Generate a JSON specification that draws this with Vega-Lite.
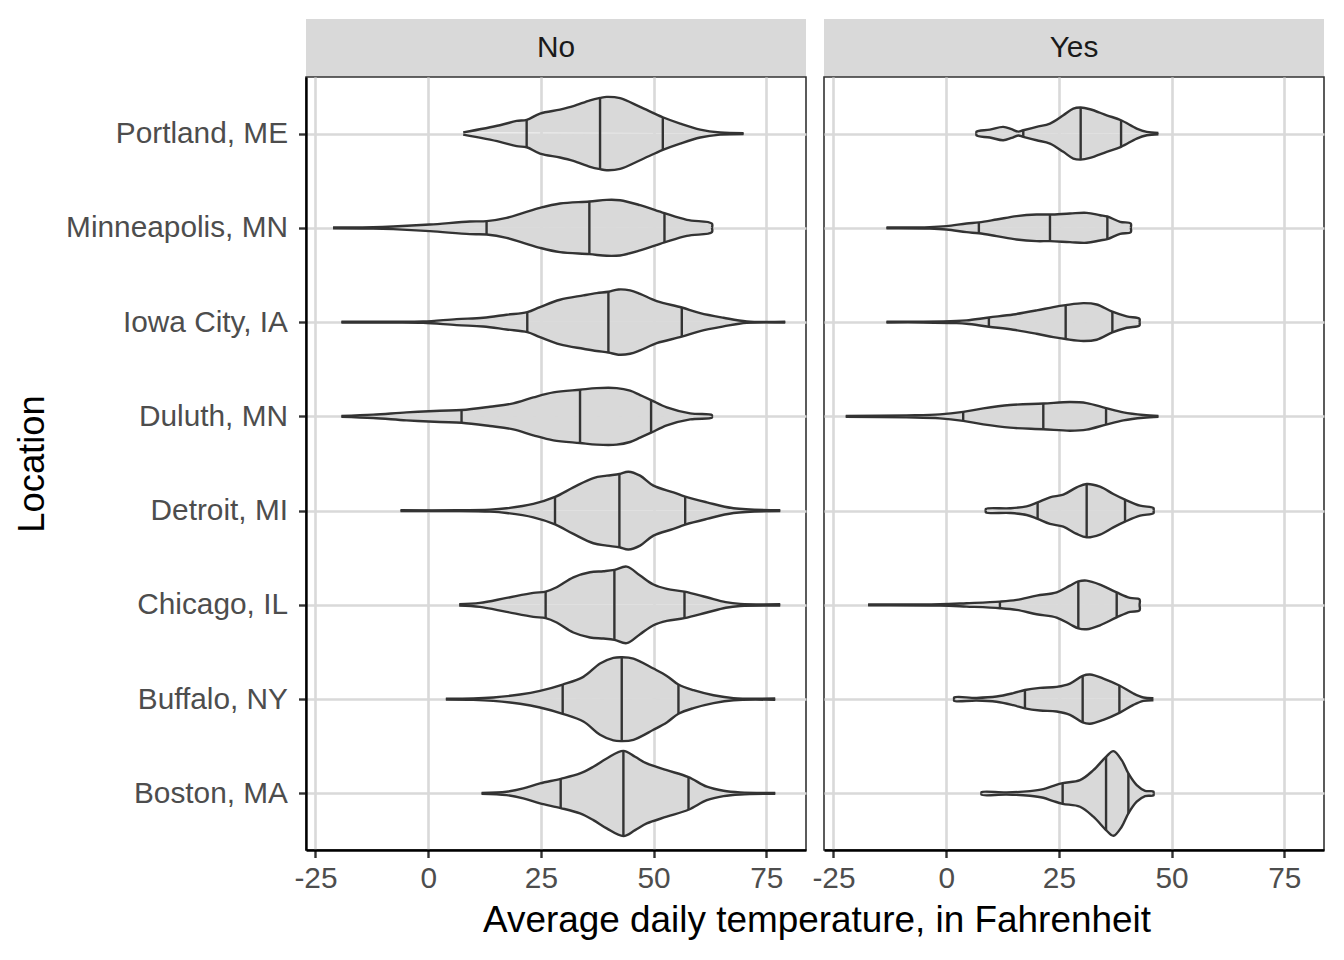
{
  "$schema": "https://vega.github.io/schema/vega-lite/v6.json",
  "background": "white",
  "padding": {"left": 13, "top": 19, "right": 10, "bottom": 10},
  "title": {"text": "Average daily temperature, in Fahrenheit", "orient": "bottom", "anchor": "middle", "fontSize": 36.9, "fontWeight": "normal", "font": "Liberation Sans", "color": "#000000", "offset": 9, "dx": 148},
  "datasets": {
    "v": [
      {"p":"No","l":"Portland, ME","t":7.77,"w":0.012},{"p":"No","l":"Portland, ME","t":15.91,"w":0.088},{"p":"No","l":"Portland, ME","t":19.62,"w":0.134},{"p":"No","l":"Portland, ME","t":21.84,"w":0.145},{"p":"No","l":"Portland, ME","t":24.8,"w":0.212},{"p":"No","l":"Portland, ME","t":29.24,"w":0.254},{"p":"No","l":"Portland, ME","t":32.2,"w":0.29},{"p":"No","l":"Portland, ME","t":35.9,"w":0.353},{"p":"No","l":"Portland, ME","t":38.12,"w":0.378},{"p":"No","l":"Portland, ME","t":39.6,"w":0.389},{"p":"No","l":"Portland, ME","t":42.56,"w":0.375},{"p":"No","l":"Portland, ME","t":47.0,"w":0.283},{"p":"No","l":"Portland, ME","t":52.04,"w":0.173},{"p":"No","l":"Portland, ME","t":55.89,"w":0.106},{"p":"No","l":"Portland, ME","t":60.33,"w":0.042},{"p":"No","l":"Portland, ME","t":64.77,"w":0.011},{"p":"No","l":"Portland, ME","t":69.95,"w":0.004},
      {"p":"No","l":"Minneapolis, MN","t":-21.1,"w":0.004},{"p":"No","l":"Minneapolis, MN","t":-12.21,"w":0.007},{"p":"No","l":"Minneapolis, MN","t":-7.77,"w":0.014},{"p":"No","l":"Minneapolis, MN","t":0.37,"w":0.035},{"p":"No","l":"Minneapolis, MN","t":9.25,"w":0.067},{"p":"No","l":"Minneapolis, MN","t":12.95,"w":0.071},{"p":"No","l":"Minneapolis, MN","t":17.39,"w":0.106},{"p":"No","l":"Minneapolis, MN","t":21.1,"w":0.159},{"p":"No","l":"Minneapolis, MN","t":24.8,"w":0.212},{"p":"No","l":"Minneapolis, MN","t":29.24,"w":0.258},{"p":"No","l":"Minneapolis, MN","t":35.75,"w":0.279},{"p":"No","l":"Minneapolis, MN","t":39.6,"w":0.297},{"p":"No","l":"Minneapolis, MN","t":42.56,"w":0.293},{"p":"No","l":"Minneapolis, MN","t":47.0,"w":0.24},{"p":"No","l":"Minneapolis, MN","t":52.41,"w":0.155},{"p":"No","l":"Minneapolis, MN","t":57.37,"w":0.085},{"p":"No","l":"Minneapolis, MN","t":62.92,"w":0.046},{"p":"No","l":"Minneapolis, MN","t":62.92,"w":0},
      {"p":"No","l":"Iowa City, IA","t":-19.25,"w":0.004},{"p":"No","l":"Iowa City, IA","t":-8.51,"w":0.004},{"p":"No","l":"Iowa City, IA","t":-1.11,"w":0.007},{"p":"No","l":"Iowa City, IA","t":6.29,"w":0.032},{"p":"No","l":"Iowa City, IA","t":12.21,"w":0.046},{"p":"No","l":"Iowa City, IA","t":17.39,"w":0.078},{"p":"No","l":"Iowa City, IA","t":21.98,"w":0.106},{"p":"No","l":"Iowa City, IA","t":24.8,"w":0.159},{"p":"No","l":"Iowa City, IA","t":29.24,"w":0.237},{"p":"No","l":"Iowa City, IA","t":34.42,"w":0.283},{"p":"No","l":"Iowa City, IA","t":37.38,"w":0.307},{"p":"No","l":"Iowa City, IA","t":39.97,"w":0.322},{"p":"No","l":"Iowa City, IA","t":42.19,"w":0.346},{"p":"No","l":"Iowa City, IA","t":44.78,"w":0.336},{"p":"No","l":"Iowa City, IA","t":47.0,"w":0.3},{"p":"No","l":"Iowa City, IA","t":50.7,"w":0.223},{"p":"No","l":"Iowa City, IA","t":56.25,"w":0.155},{"p":"No","l":"Iowa City, IA","t":60.33,"w":0.095},{"p":"No","l":"Iowa City, IA","t":65.51,"w":0.046},{"p":"No","l":"Iowa City, IA","t":70.69,"w":0.007},{"p":"No","l":"Iowa City, IA","t":79.2,"w":0.004},
      {"p":"No","l":"Duluth, MN","t":-19.25,"w":0.004},{"p":"No","l":"Duluth, MN","t":-12.21,"w":0.018},{"p":"No","l":"Duluth, MN","t":-4.81,"w":0.042},{"p":"No","l":"Duluth, MN","t":2.59,"w":0.06},{"p":"No","l":"Duluth, MN","t":7.4,"w":0.067},{"p":"No","l":"Duluth, MN","t":13.69,"w":0.102},{"p":"No","l":"Duluth, MN","t":18.88,"w":0.138},{"p":"No","l":"Duluth, MN","t":23.32,"w":0.201},{"p":"No","l":"Duluth, MN","t":27.76,"w":0.254},{"p":"No","l":"Duluth, MN","t":33.68,"w":0.283},{"p":"No","l":"Duluth, MN","t":37.38,"w":0.3},{"p":"No","l":"Duluth, MN","t":41.82,"w":0.3},{"p":"No","l":"Duluth, MN","t":44.78,"w":0.272},{"p":"No","l":"Duluth, MN","t":47.0,"w":0.226},{"p":"No","l":"Duluth, MN","t":49.44,"w":0.173},{"p":"No","l":"Duluth, MN","t":52.92,"w":0.095},{"p":"No","l":"Duluth, MN","t":58.11,"w":0.032},{"p":"No","l":"Duluth, MN","t":62.92,"w":0.014},{"p":"No","l":"Duluth, MN","t":62.92,"w":0},
      {"p":"No","l":"Detroit, MI","t":-6.14,"w":0.004},{"p":"No","l":"Detroit, MI","t":6.29,"w":0.004},{"p":"No","l":"Detroit, MI","t":13.69,"w":0.011},{"p":"No","l":"Detroit, MI","t":17.39,"w":0.025},{"p":"No","l":"Detroit, MI","t":23.32,"w":0.071},{"p":"No","l":"Detroit, MI","t":28.13,"w":0.145},{"p":"No","l":"Detroit, MI","t":32.2,"w":0.247},{"p":"No","l":"Detroit, MI","t":36.64,"w":0.346},{"p":"No","l":"Detroit, MI","t":39.6,"w":0.371},{"p":"No","l":"Detroit, MI","t":42.41,"w":0.389},{"p":"No","l":"Detroit, MI","t":44.41,"w":0.413},{"p":"No","l":"Detroit, MI","t":47.0,"w":0.371},{"p":"No","l":"Detroit, MI","t":49.96,"w":0.265},{"p":"No","l":"Detroit, MI","t":54.4,"w":0.194},{"p":"No","l":"Detroit, MI","t":57.0,"w":0.148},{"p":"No","l":"Detroit, MI","t":61.81,"w":0.088},{"p":"No","l":"Detroit, MI","t":67.73,"w":0.025},{"p":"No","l":"Detroit, MI","t":78.09,"w":0.004},
      {"p":"No","l":"Chicago, IL","t":6.88,"w":0.007},{"p":"No","l":"Chicago, IL","t":11.47,"w":0.021},{"p":"No","l":"Chicago, IL","t":17.39,"w":0.074},{"p":"No","l":"Chicago, IL","t":23.32,"w":0.127},{"p":"No","l":"Chicago, IL","t":26.05,"w":0.141},{"p":"No","l":"Chicago, IL","t":28.5,"w":0.187},{"p":"No","l":"Chicago, IL","t":32.2,"w":0.293},{"p":"No","l":"Chicago, IL","t":35.9,"w":0.346},{"p":"No","l":"Chicago, IL","t":38.86,"w":0.357},{"p":"No","l":"Chicago, IL","t":41.3,"w":0.371},{"p":"No","l":"Chicago, IL","t":44.04,"w":0.406},{"p":"No","l":"Chicago, IL","t":47.0,"w":0.311},{"p":"No","l":"Chicago, IL","t":49.96,"w":0.216},{"p":"No","l":"Chicago, IL","t":52.92,"w":0.17},{"p":"No","l":"Chicago, IL","t":56.85,"w":0.141},{"p":"No","l":"Chicago, IL","t":61.81,"w":0.081},{"p":"No","l":"Chicago, IL","t":66.0,"w":0.03},{"p":"No","l":"Chicago, IL","t":69.21,"w":0.011},{"p":"No","l":"Chicago, IL","t":78.09,"w":0.007},
      {"p":"No","l":"Buffalo, NY","t":3.92,"w":0.004},{"p":"No","l":"Buffalo, NY","t":9.99,"w":0.007},{"p":"No","l":"Buffalo, NY","t":14.43,"w":0.018},{"p":"No","l":"Buffalo, NY","t":20.36,"w":0.049},{"p":"No","l":"Buffalo, NY","t":24.8,"w":0.088},{"p":"No","l":"Buffalo, NY","t":29.83,"w":0.155},{"p":"No","l":"Buffalo, NY","t":34.42,"w":0.237},{"p":"No","l":"Buffalo, NY","t":38.12,"w":0.378},{"p":"No","l":"Buffalo, NY","t":41.08,"w":0.438},{"p":"No","l":"Buffalo, NY","t":42.93,"w":0.445},{"p":"No","l":"Buffalo, NY","t":45.52,"w":0.431},{"p":"No","l":"Buffalo, NY","t":49.96,"w":0.325},{"p":"No","l":"Buffalo, NY","t":52.92,"w":0.247},{"p":"No","l":"Buffalo, NY","t":55.51,"w":0.155},{"p":"No","l":"Buffalo, NY","t":58.85,"w":0.095},{"p":"No","l":"Buffalo, NY","t":63.29,"w":0.042},{"p":"No","l":"Buffalo, NY","t":67.73,"w":0.011},{"p":"No","l":"Buffalo, NY","t":76.98,"w":0.007},
      {"p":"No","l":"Boston, MA","t":11.84,"w":0.004},{"p":"No","l":"Boston, MA","t":17.39,"w":0.018},{"p":"No","l":"Boston, MA","t":21.1,"w":0.053},{"p":"No","l":"Boston, MA","t":24.8,"w":0.106},{"p":"No","l":"Boston, MA","t":29.39,"w":0.155},{"p":"No","l":"Boston, MA","t":33.68,"w":0.212},{"p":"No","l":"Boston, MA","t":36.64,"w":0.283},{"p":"No","l":"Boston, MA","t":39.6,"w":0.371},{"p":"No","l":"Boston, MA","t":43.3,"w":0.452},{"p":"No","l":"Boston, MA","t":45.89,"w":0.389},{"p":"No","l":"Boston, MA","t":48.48,"w":0.318},{"p":"No","l":"Boston, MA","t":52.92,"w":0.247},{"p":"No","l":"Boston, MA","t":57.74,"w":0.173},{"p":"No","l":"Boston, MA","t":61.81,"w":0.071},{"p":"No","l":"Boston, MA","t":65.51,"w":0.028},{"p":"No","l":"Boston, MA","t":69.21,"w":0.011},{"p":"No","l":"Boston, MA","t":76.98,"w":0.004},
      {"p":"Yes","l":"Portland, ME","t":6.74,"w":0},{"p":"Yes","l":"Portland, ME","t":6.74,"w":0.021},{"p":"Yes","l":"Portland, ME","t":9.7,"w":0.042},{"p":"Yes","l":"Portland, ME","t":12.66,"w":0.071},{"p":"Yes","l":"Portland, ME","t":14.51,"w":0.046},{"p":"Yes","l":"Portland, ME","t":15.99,"w":0.021},{"p":"Yes","l":"Portland, ME","t":17.1,"w":0.035},{"p":"Yes","l":"Portland, ME","t":20.06,"w":0.071},{"p":"Yes","l":"Portland, ME","t":23.02,"w":0.106},{"p":"Yes","l":"Portland, ME","t":25.98,"w":0.194},{"p":"Yes","l":"Portland, ME","t":28.2,"w":0.265},{"p":"Yes","l":"Portland, ME","t":29.83,"w":0.276},{"p":"Yes","l":"Portland, ME","t":31.9,"w":0.258},{"p":"Yes","l":"Portland, ME","t":35.6,"w":0.194},{"p":"Yes","l":"Portland, ME","t":38.79,"w":0.141},{"p":"Yes","l":"Portland, ME","t":42.26,"w":0.053},{"p":"Yes","l":"Portland, ME","t":44.49,"w":0.018},{"p":"Yes","l":"Portland, ME","t":47.08,"w":0.007},
      {"p":"Yes","l":"Minneapolis, MN","t":-13.25,"w":0.004},{"p":"Yes","l":"Minneapolis, MN","t":-3.63,"w":0.007},{"p":"Yes","l":"Minneapolis, MN","t":0.07,"w":0.018},{"p":"Yes","l":"Minneapolis, MN","t":4.52,"w":0.046},{"p":"Yes","l":"Minneapolis, MN","t":7.25,"w":0.058},{"p":"Yes","l":"Minneapolis, MN","t":11.18,"w":0.088},{"p":"Yes","l":"Minneapolis, MN","t":15.62,"w":0.124},{"p":"Yes","l":"Minneapolis, MN","t":20.06,"w":0.141},{"p":"Yes","l":"Minneapolis, MN","t":23.02,"w":0.141},{"p":"Yes","l":"Minneapolis, MN","t":27.46,"w":0.152},{"p":"Yes","l":"Minneapolis, MN","t":31.16,"w":0.159},{"p":"Yes","l":"Minneapolis, MN","t":34.12,"w":0.134},{"p":"Yes","l":"Minneapolis, MN","t":35.75,"w":0.12},{"p":"Yes","l":"Minneapolis, MN","t":38.57,"w":0.064},{"p":"Yes","l":"Minneapolis, MN","t":40.93,"w":0.046},{"p":"Yes","l":"Minneapolis, MN","t":40.93,"w":0},
      {"p":"Yes","l":"Iowa City, IA","t":-13.25,"w":0.004},{"p":"Yes","l":"Iowa City, IA","t":-5.11,"w":0.004},{"p":"Yes","l":"Iowa City, IA","t":2.29,"w":0.011},{"p":"Yes","l":"Iowa City, IA","t":4.52,"w":0.018},{"p":"Yes","l":"Iowa City, IA","t":9.47,"w":0.049},{"p":"Yes","l":"Iowa City, IA","t":14.88,"w":0.081},{"p":"Yes","l":"Iowa City, IA","t":20.06,"w":0.124},{"p":"Yes","l":"Iowa City, IA","t":23.76,"w":0.159},{"p":"Yes","l":"Iowa City, IA","t":26.5,"w":0.18},{"p":"Yes","l":"Iowa City, IA","t":30.42,"w":0.201},{"p":"Yes","l":"Iowa City, IA","t":33.38,"w":0.187},{"p":"Yes","l":"Iowa City, IA","t":36.86,"w":0.11},{"p":"Yes","l":"Iowa City, IA","t":40.04,"w":0.06},{"p":"Yes","l":"Iowa City, IA","t":42.86,"w":0.035},{"p":"Yes","l":"Iowa City, IA","t":42.86,"w":0},
      {"p":"Yes","l":"Duluth, MN","t":-22.28,"w":0.004},{"p":"Yes","l":"Duluth, MN","t":-8.81,"w":0.011},{"p":"Yes","l":"Duluth, MN","t":-1.41,"w":0.021},{"p":"Yes","l":"Duluth, MN","t":3.77,"w":0.048},{"p":"Yes","l":"Duluth, MN","t":8.22,"w":0.085},{"p":"Yes","l":"Duluth, MN","t":14.14,"w":0.12},{"p":"Yes","l":"Duluth, MN","t":21.54,"w":0.136},{"p":"Yes","l":"Duluth, MN","t":27.46,"w":0.152},{"p":"Yes","l":"Duluth, MN","t":31.16,"w":0.141},{"p":"Yes","l":"Duluth, MN","t":35.46,"w":0.087},{"p":"Yes","l":"Duluth, MN","t":39.3,"w":0.042},{"p":"Yes","l":"Duluth, MN","t":43.75,"w":0.014},{"p":"Yes","l":"Duluth, MN","t":47.08,"w":0.004},
      {"p":"Yes","l":"Detroit, MI","t":8.81,"w":0},{"p":"Yes","l":"Detroit, MI","t":8.81,"w":0.018},{"p":"Yes","l":"Detroit, MI","t":14.14,"w":0.025},{"p":"Yes","l":"Detroit, MI","t":17.84,"w":0.046},{"p":"Yes","l":"Detroit, MI","t":20.28,"w":0.088},{"p":"Yes","l":"Detroit, MI","t":23.02,"w":0.141},{"p":"Yes","l":"Detroit, MI","t":25.98,"w":0.17},{"p":"Yes","l":"Detroit, MI","t":28.94,"w":0.247},{"p":"Yes","l":"Detroit, MI","t":31.16,"w":0.283},{"p":"Yes","l":"Detroit, MI","t":34.12,"w":0.254},{"p":"Yes","l":"Detroit, MI","t":37.08,"w":0.177},{"p":"Yes","l":"Detroit, MI","t":39.67,"w":0.117},{"p":"Yes","l":"Detroit, MI","t":43.0,"w":0.053},{"p":"Yes","l":"Detroit, MI","t":45.97,"w":0.028},{"p":"Yes","l":"Detroit, MI","t":45.97,"w":0},
      {"p":"Yes","l":"Chicago, IL","t":-17.32,"w":0.004},{"p":"Yes","l":"Chicago, IL","t":-1.41,"w":0.007},{"p":"Yes","l":"Chicago, IL","t":4.52,"w":0.018},{"p":"Yes","l":"Chicago, IL","t":11.92,"w":0.035},{"p":"Yes","l":"Chicago, IL","t":15.62,"w":0.053},{"p":"Yes","l":"Chicago, IL","t":20.06,"w":0.099},{"p":"Yes","l":"Chicago, IL","t":24.5,"w":0.134},{"p":"Yes","l":"Chicago, IL","t":27.46,"w":0.205},{"p":"Yes","l":"Chicago, IL","t":29.31,"w":0.249},{"p":"Yes","l":"Chicago, IL","t":31.16,"w":0.258},{"p":"Yes","l":"Chicago, IL","t":34.12,"w":0.216},{"p":"Yes","l":"Chicago, IL","t":37.82,"w":0.132},{"p":"Yes","l":"Chicago, IL","t":40.78,"w":0.074},{"p":"Yes","l":"Chicago, IL","t":42.86,"w":0.06},{"p":"Yes","l":"Chicago, IL","t":42.86,"w":0},
      {"p":"Yes","l":"Buffalo, NY","t":1.78,"w":0},{"p":"Yes","l":"Buffalo, NY","t":1.78,"w":0.018},{"p":"Yes","l":"Buffalo, NY","t":6.74,"w":0.014},{"p":"Yes","l":"Buffalo, NY","t":11.18,"w":0.028},{"p":"Yes","l":"Buffalo, NY","t":14.88,"w":0.064},{"p":"Yes","l":"Buffalo, NY","t":17.47,"w":0.097},{"p":"Yes","l":"Buffalo, NY","t":20.8,"w":0.12},{"p":"Yes","l":"Buffalo, NY","t":24.5,"w":0.131},{"p":"Yes","l":"Buffalo, NY","t":27.46,"w":0.166},{"p":"Yes","l":"Buffalo, NY","t":30.27,"w":0.247},{"p":"Yes","l":"Buffalo, NY","t":31.9,"w":0.261},{"p":"Yes","l":"Buffalo, NY","t":34.86,"w":0.219},{"p":"Yes","l":"Buffalo, NY","t":38.42,"w":0.145},{"p":"Yes","l":"Buffalo, NY","t":41.53,"w":0.06},{"p":"Yes","l":"Buffalo, NY","t":43.75,"w":0.018},{"p":"Yes","l":"Buffalo, NY","t":45.97,"w":0.011},
      {"p":"Yes","l":"Boston, MA","t":7.85,"w":0},{"p":"Yes","l":"Boston, MA","t":7.85,"w":0.014},{"p":"Yes","l":"Boston, MA","t":13.4,"w":0.011},{"p":"Yes","l":"Boston, MA","t":18.58,"w":0.025},{"p":"Yes","l":"Boston, MA","t":21.54,"w":0.046},{"p":"Yes","l":"Boston, MA","t":23.76,"w":0.081},{"p":"Yes","l":"Boston, MA","t":25.83,"w":0.11},{"p":"Yes","l":"Boston, MA","t":29.68,"w":0.141},{"p":"Yes","l":"Boston, MA","t":32.64,"w":0.247},{"p":"Yes","l":"Boston, MA","t":35.46,"w":0.389},{"p":"Yes","l":"Boston, MA","t":37.08,"w":0.449},{"p":"Yes","l":"Boston, MA","t":38.93,"w":0.353},{"p":"Yes","l":"Boston, MA","t":40.41,"w":0.212},{"p":"Yes","l":"Boston, MA","t":42.26,"w":0.088},{"p":"Yes","l":"Boston, MA","t":44.12,"w":0.028},{"p":"Yes","l":"Boston, MA","t":45.97,"w":0.021},{"p":"Yes","l":"Boston, MA","t":45.97,"w":0}
    ],
    "q": [
      {"p":"No","l":"Portland, ME","t":21.84,"w":0.145},{"p":"No","l":"Portland, ME","t":38.12,"w":0.378},{"p":"No","l":"Portland, ME","t":52.04,"w":0.173},
      {"p":"No","l":"Minneapolis, MN","t":12.95,"w":0.071},{"p":"No","l":"Minneapolis, MN","t":35.75,"w":0.279},{"p":"No","l":"Minneapolis, MN","t":52.41,"w":0.155},
      {"p":"No","l":"Iowa City, IA","t":21.98,"w":0.106},{"p":"No","l":"Iowa City, IA","t":39.97,"w":0.322},{"p":"No","l":"Iowa City, IA","t":56.25,"w":0.155},
      {"p":"No","l":"Duluth, MN","t":7.4,"w":0.067},{"p":"No","l":"Duluth, MN","t":33.68,"w":0.283},{"p":"No","l":"Duluth, MN","t":49.44,"w":0.173},
      {"p":"No","l":"Detroit, MI","t":28.13,"w":0.145},{"p":"No","l":"Detroit, MI","t":42.41,"w":0.389},{"p":"No","l":"Detroit, MI","t":57.0,"w":0.148},
      {"p":"No","l":"Chicago, IL","t":26.05,"w":0.141},{"p":"No","l":"Chicago, IL","t":41.3,"w":0.371},{"p":"No","l":"Chicago, IL","t":56.85,"w":0.141},
      {"p":"No","l":"Buffalo, NY","t":29.83,"w":0.155},{"p":"No","l":"Buffalo, NY","t":42.93,"w":0.445},{"p":"No","l":"Buffalo, NY","t":55.51,"w":0.155},
      {"p":"No","l":"Boston, MA","t":29.39,"w":0.155},{"p":"No","l":"Boston, MA","t":43.3,"w":0.452},{"p":"No","l":"Boston, MA","t":57.74,"w":0.173},
      {"p":"Yes","l":"Portland, ME","t":17.1,"w":0.035},{"p":"Yes","l":"Portland, ME","t":29.83,"w":0.276},{"p":"Yes","l":"Portland, ME","t":38.79,"w":0.141},
      {"p":"Yes","l":"Minneapolis, MN","t":7.25,"w":0.058},{"p":"Yes","l":"Minneapolis, MN","t":23.02,"w":0.141},{"p":"Yes","l":"Minneapolis, MN","t":35.75,"w":0.12},
      {"p":"Yes","l":"Iowa City, IA","t":9.47,"w":0.049},{"p":"Yes","l":"Iowa City, IA","t":26.5,"w":0.18},{"p":"Yes","l":"Iowa City, IA","t":36.86,"w":0.11},
      {"p":"Yes","l":"Duluth, MN","t":3.77,"w":0.048},{"p":"Yes","l":"Duluth, MN","t":21.54,"w":0.136},{"p":"Yes","l":"Duluth, MN","t":35.46,"w":0.087},
      {"p":"Yes","l":"Detroit, MI","t":20.28,"w":0.088},{"p":"Yes","l":"Detroit, MI","t":31.16,"w":0.283},{"p":"Yes","l":"Detroit, MI","t":39.67,"w":0.117},
      {"p":"Yes","l":"Chicago, IL","t":11.92,"w":0.035},{"p":"Yes","l":"Chicago, IL","t":29.31,"w":0.249},{"p":"Yes","l":"Chicago, IL","t":37.82,"w":0.132},
      {"p":"Yes","l":"Buffalo, NY","t":17.47,"w":0.097},{"p":"Yes","l":"Buffalo, NY","t":30.27,"w":0.247},{"p":"Yes","l":"Buffalo, NY","t":38.42,"w":0.145},
      {"p":"Yes","l":"Boston, MA","t":25.83,"w":0.11},{"p":"Yes","l":"Boston, MA","t":35.46,"w":0.389},{"p":"Yes","l":"Boston, MA","t":40.41,"w":0.212}
    ]
  },
  "columns": 2,
  "spacing": {"row": 0, "column": 18},
  "bounds": "flush",
  "concat": [
    {
      "data": {"values": [{"p": "No"}]},
      "width": 500, "height": 58,
      "view": {"fill": "#D9D9D9", "stroke": null},
      "mark": {"type": "text", "fontSize": 29.8, "font": "Liberation Sans", "color": "#1A1A1A", "align": "center", "baseline": "middle"},
      "encoding": {"text": {"field": "p", "type": "nominal"}}
    },
    {
      "data": {"values": [{"p": "Yes"}]},
      "width": 500, "height": 58,
      "view": {"fill": "#D9D9D9", "stroke": null},
      "mark": {"type": "text", "fontSize": 29.8, "font": "Liberation Sans", "color": "#1A1A1A", "align": "center", "baseline": "middle"},
      "encoding": {"text": {"field": "p", "type": "nominal"}}
    },
    {
      "width": 500, "height": 773,
      "layer": [
        {
          "data": {"name": "v"},
          "transform": [{"filter": {"field": "p", "equal": "No"}}],
          "mark": {"type": "line", "fill": "#D9D9D9", "stroke": "#333333", "strokeWidth": 2.4, "strokeJoin": "round", "interpolate": "catmull-rom"},
          "encoding": {
            "x": {"field": "t", "type": "quantitative", "scale": {"domain": [-27.1, 83.8], "nice": false, "zero": false}, "axis": {"values": [-25, 0, 25, 50, 75], "title": null, "grid": true, "labelExpr": "'' + datum.value"}},
            "y": {"field": "l", "type": "nominal", "scale": {"type": "point", "padding": 0.6, "domain": ["Portland, ME", "Minneapolis, MN", "Iowa City, IA", "Duluth, MN", "Detroit, MI", "Chicago, IL", "Buffalo, NY", "Boston, MA"]}, "axis": {"title": "Location", "grid": true}},
            "yOffset": {"field": "w", "type": "quantitative", "scale": {"domain": [-0.5, 0.5], "range": [47.13, -47.13]}},
            "detail": {"field": "l", "type": "nominal"},
            "order": {"field": "t", "type": "quantitative"}
          }
        },
        {
          "data": {"name": "v"},
          "transform": [{"filter": {"field": "p", "equal": "No"}}],
          "mark": {"type": "line", "fill": "#D9D9D9", "stroke": "#333333", "strokeWidth": 2.4, "strokeJoin": "round", "interpolate": "catmull-rom"},
          "encoding": {
            "x": {"field": "t", "type": "quantitative"},
            "y": {"field": "l", "type": "nominal"},
            "yOffset": {"field": "w", "type": "quantitative", "scale": {"domain": [-0.5, 0.5], "range": [-47.13, 47.13]}},
            "detail": {"field": "l", "type": "nominal"},
            "order": {"field": "t", "type": "quantitative"}
          }
        },
        {
          "data": {"name": "q"},
          "transform": [{"filter": {"field": "p", "equal": "No"}}],
          "mark": {"type": "tick", "orient": "vertical", "thickness": 2.4, "color": "#333333", "opacity": 1},
          "encoding": {
            "x": {"field": "t", "type": "quantitative"},
            "y": {"field": "l", "type": "nominal"},
            "size": {"field": "w", "type": "quantitative", "scale": {"domain": [0, 0.5], "range": [0, 94.27]}, "legend": null}
          }
        }
      ],
      "resolve": {"scale": {"yOffset": "independent"}}
    },
    {
      "width": 500, "height": 773,
      "layer": [
        {
          "data": {"name": "v"},
          "transform": [{"filter": {"field": "p", "equal": "Yes"}}],
          "mark": {"type": "line", "fill": "#D9D9D9", "stroke": "#333333", "strokeWidth": 2.4, "strokeJoin": "round", "interpolate": "catmull-rom"},
          "encoding": {
            "x": {"field": "t", "type": "quantitative", "scale": {"domain": [-27.1, 83.8], "nice": false, "zero": false}, "axis": {"values": [-25, 0, 25, 50, 75], "title": null, "grid": true, "labelExpr": "'' + datum.value"}},
            "y": {"field": "l", "type": "nominal", "scale": {"type": "point", "padding": 0.6, "domain": ["Portland, ME", "Minneapolis, MN", "Iowa City, IA", "Duluth, MN", "Detroit, MI", "Chicago, IL", "Buffalo, NY", "Boston, MA"]}, "axis": {"title": null, "labels": false, "ticks": false, "domain": false, "grid": true}},
            "yOffset": {"field": "w", "type": "quantitative", "scale": {"domain": [-0.5, 0.5], "range": [47.13, -47.13]}},
            "detail": {"field": "l", "type": "nominal"},
            "order": {"field": "t", "type": "quantitative"}
          }
        },
        {
          "data": {"name": "v"},
          "transform": [{"filter": {"field": "p", "equal": "Yes"}}],
          "mark": {"type": "line", "fill": "#D9D9D9", "stroke": "#333333", "strokeWidth": 2.4, "strokeJoin": "round", "interpolate": "catmull-rom"},
          "encoding": {
            "x": {"field": "t", "type": "quantitative"},
            "y": {"field": "l", "type": "nominal"},
            "yOffset": {"field": "w", "type": "quantitative", "scale": {"domain": [-0.5, 0.5], "range": [-47.13, 47.13]}},
            "detail": {"field": "l", "type": "nominal"},
            "order": {"field": "t", "type": "quantitative"}
          }
        },
        {
          "data": {"name": "q"},
          "transform": [{"filter": {"field": "p", "equal": "Yes"}}],
          "mark": {"type": "tick", "orient": "vertical", "thickness": 2.4, "color": "#333333", "opacity": 1},
          "encoding": {
            "x": {"field": "t", "type": "quantitative"},
            "y": {"field": "l", "type": "nominal"},
            "size": {"field": "w", "type": "quantitative", "scale": {"domain": [0, 0.5], "range": [0, 94.27]}, "legend": null}
          }
        }
      ],
      "resolve": {"scale": {"yOffset": "independent"}}
    }
  ],
  "config": {
    "font": "Liberation Sans",
    "view": {"stroke": "#333333", "strokeWidth": 1.6},
    "axis": {"gridColor": "#D9D9D9", "gridWidth": 2.6, "domainColor": "#000000", "domainWidth": 2.4, "tickColor": "#333333", "tickWidth": 2.4, "tickSize": 7.5, "labelFontSize": 29.8, "labelColor": "#4D4D4D", "labelFont": "Liberation Sans", "titleFont": "Liberation Sans", "titleFontWeight": "normal", "titleColor": "#000000", "titleFontSize": 36.4, "labelOverlap": false, "labelFlush": false, "labelLimit": 0},
    "axisX": {"labelPadding": 6},
    "axisY": {"labelPadding": 11, "titlePadding": 55}
  }
}
